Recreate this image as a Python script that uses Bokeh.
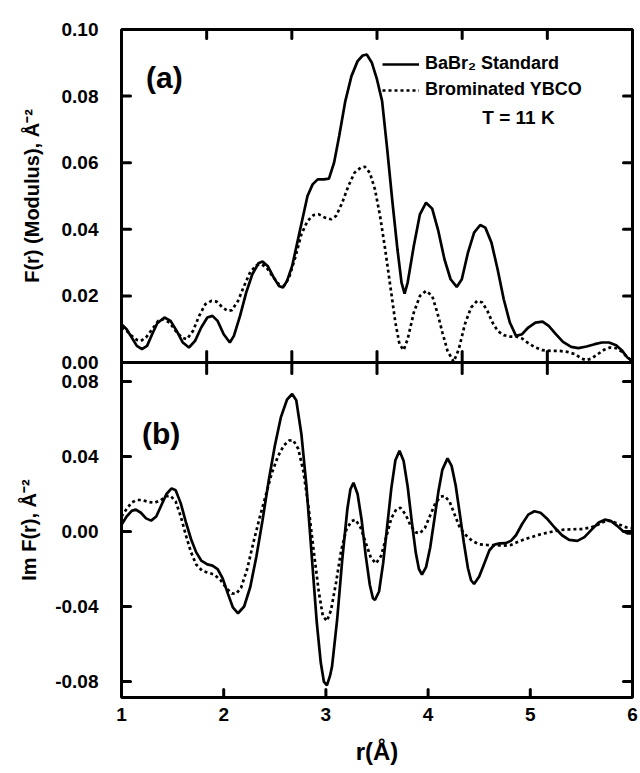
import numpy as np
from bokeh.plotting import figure
from bokeh.layouts import column
from bokeh.models import (FixedTicker, PrintfTickFormatter, CustomJSTickFormatter,
                          Label, Legend, LegendItem, Range1d)
from bokeh.embed import file_html
from bokeh.resources import INLINE

FONT = "Liberation Sans"

# ---------------- data ----------------
# (a) modulus |F(r)|, BaBr2 standard
r_mod_std = [1.00, 1.05, 1.10, 1.15, 1.20, 1.25, 1.30, 1.35, 1.42, 1.48,
             1.54, 1.60, 1.66, 1.72, 1.78, 1.84, 1.89, 1.94, 2.00, 2.06,
             2.10, 2.16, 2.22, 2.28, 2.34, 2.38, 2.43, 2.49, 2.54, 2.58,
             2.62, 2.67, 2.72, 2.77, 2.82, 2.87, 2.92, 2.98, 3.03, 3.08,
             3.13, 3.19, 3.25, 3.31, 3.36, 3.40, 3.45, 3.50, 3.55, 3.60,
             3.65, 3.70, 3.74, 3.77, 3.80, 3.86, 3.92, 3.98, 4.04, 4.10,
             4.16, 4.22, 4.28, 4.33, 4.39, 4.45, 4.51, 4.56, 4.62, 4.68,
             4.74, 4.80, 4.86, 4.92, 4.98, 5.05, 5.12, 5.18, 5.25, 5.32,
             5.40, 5.47, 5.55, 5.63, 5.70, 5.77, 5.84, 5.90, 5.95, 6.00]
mod_std = [0.0115, 0.0100, 0.0075, 0.0050, 0.0040, 0.0050, 0.0085, 0.0118, 0.0135, 0.0125,
           0.0095, 0.0060, 0.0045, 0.0065, 0.0105, 0.0135, 0.0140, 0.0125, 0.0085, 0.0060,
           0.0080, 0.0140, 0.0210, 0.0265, 0.0298, 0.0303, 0.0290, 0.0255, 0.0230, 0.0225,
           0.0245, 0.0290, 0.0360, 0.0430, 0.0500, 0.0535, 0.0550, 0.0550, 0.0552, 0.0600,
           0.0680, 0.0785, 0.0860, 0.0905, 0.0922, 0.0925, 0.0900, 0.0850, 0.0785, 0.0640,
           0.0485, 0.0340, 0.0240, 0.0207, 0.0240, 0.0350, 0.0445, 0.0480, 0.0462, 0.0395,
           0.0310, 0.0250, 0.0227, 0.0250, 0.0330, 0.0390, 0.0413, 0.0405, 0.0360, 0.0280,
           0.0190, 0.0120, 0.0080, 0.0085, 0.0105, 0.0120, 0.0123, 0.0110, 0.0085, 0.0062,
           0.0047, 0.0043, 0.0048, 0.0055, 0.0060, 0.0060, 0.0052, 0.0035, 0.0015, 0.0003]

# (a) modulus |F(r)|, brominated YBCO
r_mod_ybco = [1.00, 1.05, 1.10, 1.15, 1.19, 1.24, 1.30, 1.36, 1.41, 1.47,
              1.53, 1.59, 1.64, 1.70, 1.76, 1.82, 1.88, 1.93, 1.99, 2.04,
              2.08, 2.14, 2.20, 2.26, 2.32, 2.37, 2.42, 2.48, 2.54, 2.59,
              2.64, 2.70, 2.76, 2.82, 2.88, 2.93, 2.99, 3.05, 3.10, 3.16,
              3.22, 3.28, 3.34, 3.38, 3.43, 3.48, 3.53, 3.58, 3.63, 3.68,
              3.72, 3.76, 3.80, 3.86, 3.92, 3.98, 4.04, 4.09, 4.14, 4.19,
              4.25, 4.30, 4.36, 4.42, 4.48, 4.53, 4.58, 4.63, 4.68, 4.74,
              4.80, 4.86, 4.92, 4.98, 5.05, 5.12, 5.20, 5.28, 5.36, 5.44,
              5.50, 5.55, 5.60, 5.66, 5.72, 5.78, 5.84, 5.90, 5.95, 6.00]
mod_ybco = [0.0105, 0.0095, 0.0080, 0.0068, 0.0065, 0.0075, 0.0100, 0.0125, 0.0130, 0.0120,
            0.0095, 0.0075, 0.0070, 0.0095, 0.0140, 0.0175, 0.0185, 0.0183, 0.0165, 0.0155,
            0.0157, 0.0185, 0.0230, 0.0272, 0.0292, 0.0295, 0.0285, 0.0258, 0.0235, 0.0230,
            0.0255, 0.0315, 0.0385, 0.0425, 0.0443, 0.0445, 0.0435, 0.0430, 0.0440, 0.0480,
            0.0530, 0.0570, 0.0585, 0.0588, 0.0570, 0.0520, 0.0440, 0.0340, 0.0230, 0.0120,
            0.0055, 0.0037, 0.0070, 0.0150, 0.0200, 0.0215, 0.0200, 0.0150, 0.0090, 0.0035,
            0.0002, 0.0040, 0.0115, 0.0165, 0.0185, 0.0180, 0.0155, 0.0120, 0.0095, 0.0082,
            0.0078, 0.0078, 0.0072, 0.0058, 0.0045, 0.0037, 0.0035, 0.0035, 0.0032, 0.0025,
            0.0012, 0.0007, 0.0012, 0.0025, 0.0038, 0.0045, 0.0043, 0.0032, 0.0015, 0.0005]

# (b) imaginary part Im F(r), BaBr2 standard
r_im_std = [1.00, 1.05, 1.10, 1.14, 1.19, 1.24, 1.29, 1.34, 1.39, 1.44,
            1.49, 1.53, 1.58, 1.63, 1.68, 1.73, 1.78, 1.84, 1.89, 1.94,
            1.99, 2.04, 2.09, 2.14, 2.20, 2.26, 2.32, 2.38, 2.44, 2.50,
            2.56, 2.62, 2.67, 2.71, 2.76, 2.81, 2.86, 2.91, 2.95, 2.98,
            3.01, 3.04, 3.06, 3.11, 3.16, 3.21, 3.24, 3.27, 3.31, 3.35,
            3.39, 3.43, 3.46, 3.48, 3.52, 3.56, 3.60, 3.64, 3.68, 3.72,
            3.76, 3.80, 3.84, 3.88, 3.91, 3.94, 3.98, 4.02, 4.06, 4.10,
            4.14, 4.19, 4.23, 4.27, 4.31, 4.35, 4.39, 4.42, 4.45, 4.50,
            4.55, 4.60, 4.65, 4.70, 4.76, 4.81, 4.86, 4.92, 4.98, 5.04,
            5.10, 5.17, 5.24, 5.31, 5.38, 5.46, 5.53, 5.60, 5.67, 5.73,
            5.79, 5.85, 5.90, 5.95, 6.00]
im_std = [0.0036, 0.0080, 0.0110, 0.0117, 0.0100, 0.0070, 0.0058, 0.0080, 0.0140, 0.0200,
          0.0230, 0.0220, 0.0150, 0.0050, -0.0040, -0.0110, -0.0155, -0.0175, -0.0182, -0.0200,
          -0.0250, -0.0330, -0.0405, -0.0436, -0.0400, -0.0296, -0.0133, 0.0060, 0.0270, 0.0456,
          0.0610, 0.0704, 0.0733, 0.0700, 0.0520, 0.0240, -0.0120, -0.0480, -0.0700, -0.0800,
          -0.0820, -0.0770, -0.0720, -0.0470, -0.0150, 0.0120, 0.0225, 0.0260, 0.0200, 0.0060,
          -0.0130, -0.0285, -0.0356, -0.0365, -0.0320, -0.0170, 0.0030, 0.0230, 0.0380, 0.0430,
          0.0377, 0.0240, 0.0054, -0.0115, -0.0200, -0.0230, -0.0190, -0.0087, 0.0060, 0.0210,
          0.0330, 0.0390, 0.0350, 0.0245, 0.0095, -0.0060, -0.0196, -0.0260, -0.0280, -0.0240,
          -0.0170, -0.0100, -0.0070, -0.0063, -0.0062, -0.0050, -0.0020, 0.0040, 0.0090, 0.0108,
          0.0100, 0.0065, 0.0020, -0.0020, -0.0045, -0.0050, -0.0030, 0.0010, 0.0048, 0.0063,
          0.0055, 0.0030, 0.0005, -0.0010, -0.0010]

# (b) imaginary part Im F(r), brominated YBCO
r_im_ybco = [1.00, 1.05, 1.10, 1.15, 1.20, 1.26, 1.32, 1.38, 1.44, 1.48,
             1.53, 1.58, 1.63, 1.68, 1.73, 1.79, 1.85, 1.91, 1.97, 2.03,
             2.08, 2.12, 2.17, 2.23, 2.29, 2.35, 2.41, 2.47, 2.53, 2.59,
             2.64, 2.68, 2.73, 2.78, 2.83, 2.88, 2.93, 2.97, 3.01, 3.05,
             3.10, 3.15, 3.20, 3.25, 3.29, 3.34, 3.39, 3.44, 3.49, 3.54,
             3.59, 3.64, 3.69, 3.73, 3.78, 3.83, 3.88, 3.92, 3.97, 4.02,
             4.07, 4.12, 4.16, 4.21, 4.26, 4.31, 4.37, 4.43, 4.50, 4.58,
             4.66, 4.74, 4.81, 4.88, 4.95, 5.03, 5.10, 5.18, 5.26, 5.33,
             5.42, 5.50, 5.58, 5.64, 5.70, 5.76, 5.82, 5.88, 5.94, 6.00]
im_ybco = [0.0080, 0.0120, 0.0155, 0.0168, 0.0168, 0.0158, 0.0153, 0.0165, 0.0188, 0.0190,
           0.0160, 0.0080, -0.0020, -0.0110, -0.0175, -0.0210, -0.0220, -0.0230, -0.0260, -0.0305,
           -0.0330, -0.0333, -0.0300, -0.0200, -0.0060, 0.0070, 0.0190, 0.0310, 0.0400, 0.0460,
           0.0485, 0.0487, 0.0440, 0.0320, 0.0130, -0.0100, -0.0320, -0.0450, -0.0477, -0.0420,
           -0.0270, -0.0100, 0.0010, 0.0055, 0.0063, 0.0020, -0.0060, -0.0140, -0.0170, -0.0130,
           -0.0030, 0.0070, 0.0120, 0.0126, 0.0090, 0.0030, -0.0005, -0.0010, 0.0020, 0.0085,
           0.0150, 0.0185, 0.0190, 0.0160, 0.0090, 0.0020, -0.0020, -0.0050, -0.0068, -0.0072,
           -0.0074, -0.0075, -0.0072, -0.0055, -0.0040, -0.0027, -0.0015, -0.0005, 0.0005, 0.0010,
           0.0012, 0.0013, 0.0020, 0.0030, 0.0048, 0.0058, 0.0050, 0.0035, 0.0022, 0.0018]

assert len(r_mod_std) == len(mod_std)
assert len(r_mod_ybco) == len(mod_ybco)
assert len(r_im_std) == len(im_std)
assert len(r_im_ybco) == len(im_ybco)

series_labels = ["BaBr\u2082 Standard", "Brominated YBCO"]
mod_ticks = [0.00, 0.02, 0.04, 0.06, 0.08, 0.10]
im_ticks = [-0.08, -0.04, 0.00, 0.04, 0.08]
r_ticks = [1, 2, 3, 4, 5, 6]
R_MIN, R_MAX = 1.0, 6.0
MOD_LO, MOD_HI = 0.0, 0.10
IM_LO, IM_HI = -0.0885, 0.0901
inner_r_ticks = [R_MIN + (R_MAX - R_MIN) * k / 6.0 for k in range(1, 6)]

# ---------------- styling helpers ----------------
def style_axis(ax, ticks, labels=True, fmt="%.2f", size="19px"):
    ax.ticker = FixedTicker(ticks=ticks)
    ax.axis_line_color = None
    ax.major_tick_line_color = None
    ax.minor_tick_line_color = None
    ax.major_tick_in = 0
    ax.major_tick_out = 0
    ax.major_label_text_font = FONT
    ax.major_label_text_font_style = "bold"
    ax.major_label_text_color = "black"
    ax.axis_label_text_font = FONT
    ax.axis_label_text_font_style = "bold"
    ax.axis_label_text_color = "black"
    if labels:
        ax.formatter = PrintfTickFormatter(format=fmt)
        ax.major_label_text_font_size = size
    else:
        ax.formatter = CustomJSTickFormatter(code="return ''")
        ax.major_label_text_font_size = "0px"
        ax.major_label_standoff = 0


def inward_ticks(p, xs, ys, length, direction):
    # tick marks drawn from a frame edge into the plot, length in screen pixels
    p.ray(x=xs, y=ys, length=length, length_units="screen", angle=direction,
          line_color="black", line_width=3, line_cap="round")


RIGHT, LEFT, UP, DOWN = 0.0, np.pi, np.pi / 2, -np.pi / 2


def make_fig(height, y0, y1, top_border, bottom_border, **kw):
    p = figure(width=640, height=height, x_range=Range1d(R_MIN, R_MAX), y_range=Range1d(y0, y1),
               output_backend="svg", toolbar_location=None,
               min_border_left=121, min_border_right=8,
               min_border_top=top_border, min_border_bottom=bottom_border,
               background_fill_color="white", **kw)
    p.outline_line_color = "black"
    p.outline_line_width = 3
    p.xgrid.grid_line_color = None
    p.ygrid.grid_line_color = None
    return p


def text_label(p, x, y, text, size):
    p.add_layout(Label(x=x, y=y, text=text, text_font=FONT, text_font_style="bold",
                       text_font_size=size, text_color="black",
                       text_baseline="middle", text_align="left"))


# ---------------- (a) modulus ----------------
top = make_fig(372, MOD_LO, MOD_HI, 29, 10, border_fill_color="white")
l_std = top.line(r_mod_std, mod_std, line_color="black", line_width=2.7)
l_ybco = top.line(r_mod_ybco, mod_ybco, line_color="black", line_width=2.7, line_dash="3 3")

ay = top.yaxis[0]
style_axis(ay, mod_ticks)
ay.major_label_standoff = 23
ay.axis_label = "F(r) (Modulus), \u00c5\u207b\u00b2"
ay.axis_label_text_font_size = "20px"
ay.axis_label_standoff = 16
style_axis(top.xaxis[0], inner_r_ticks, labels=False)

inner_mod = mod_ticks[1:-1]
inward_ticks(top, [R_MIN] * len(inner_mod), inner_mod, 9, RIGHT)
inward_ticks(top, [R_MAX] * len(inner_mod), inner_mod, 9, LEFT)
inward_ticks(top, inner_r_ticks, [MOD_HI] * len(inner_r_ticks), 9, DOWN)
inward_ticks(top, inner_r_ticks, [MOD_LO] * len(inner_r_ticks), 11, UP)

legend = Legend(items=[LegendItem(label=series_labels[0], renderers=[l_std]),
                       LegendItem(label=series_labels[1], renderers=[l_ybco])],
                location=(261, 262), border_line_color=None, background_fill_alpha=0,
                label_text_font=FONT, label_text_font_style="bold", label_text_font_size="18px",
                label_text_color="black",
                glyph_width=37, glyph_height=20, label_height=20, label_standoff=6,
                spacing=5, padding=0, margin=0)
top.add_layout(legend)

text_label(top, 1.24, 0.0855, "(a)", "30px")
text_label(top, 4.53, 0.0735, "T = 11 K", "19px")

# ---------------- (b) imaginary part ----------------
bot = make_fig(410, IM_LO, IM_HI, 0, 75, border_fill_alpha=0.0, margin=(-10, 0, 0, 0))
bot.line(r_im_std, im_std, line_color="black", line_width=2.7)
bot.line(r_im_ybco, im_ybco, line_color="black", line_width=2.7, line_dash="3 3")

by = bot.yaxis[0]
style_axis(by, im_ticks)
by.major_label_standoff = 23
by.axis_label = "Im F(r), \u00c5\u207b\u00b2"
by.axis_label_text_font_size = "20px"
by.axis_label_standoff = 12

bx = bot.xaxis[0]
style_axis(bx, r_ticks, fmt="%d")
bx.major_label_standoff = 10
bx.axis_label = "r(\u00c5)"
bx.axis_label_text_font_size = "24px"
bx.axis_label_standoff = 14

inward_ticks(bot, [R_MIN] * len(im_ticks), im_ticks, 9, RIGHT)
inward_ticks(bot, [R_MAX] * len(im_ticks), im_ticks, 9, LEFT)
inward_ticks(bot, inner_r_ticks, [IM_HI] * len(inner_r_ticks), 11, DOWN)
inner_r = r_ticks[1:-1]
inward_ticks(bot, inner_r, [IM_LO] * len(inner_r), 8, UP)

text_label(bot, 1.20, 0.0525, "(b)", "30px")

layout = column(top, bot, spacing=0)
open("out.html", "w").write(file_html(layout, INLINE))
